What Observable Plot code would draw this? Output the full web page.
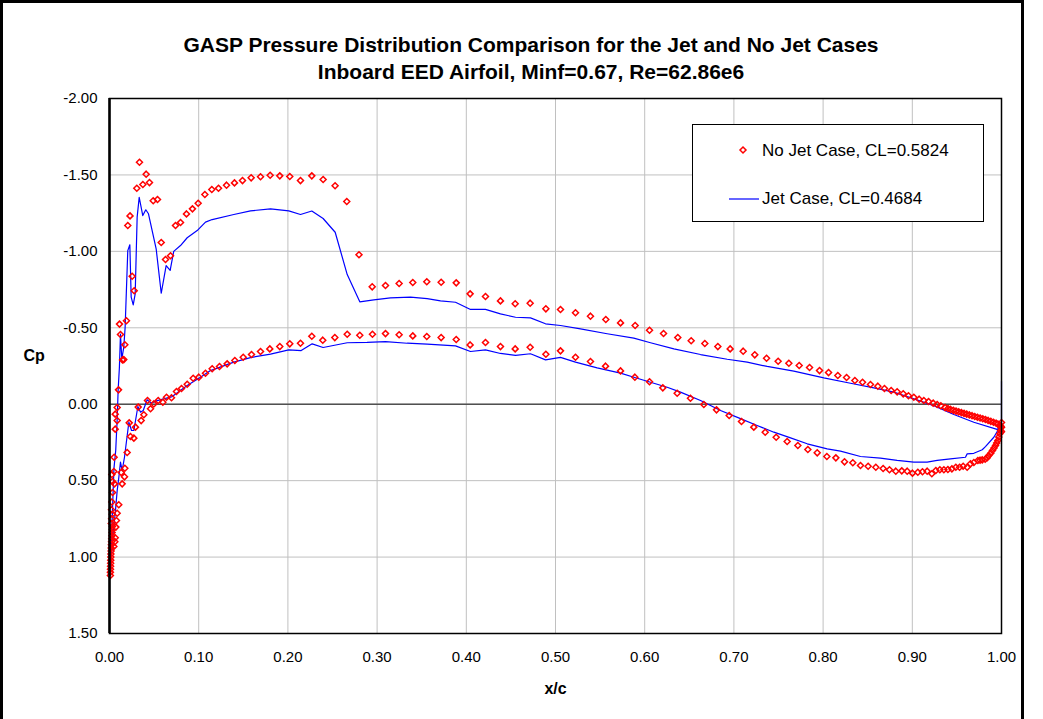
<!DOCTYPE html>
<html>
<head>
<meta charset="utf-8">
<script src="https://cdn.jsdelivr.net/npm/d3@7"></script>
<script src="https://cdn.jsdelivr.net/npm/@observablehq/plot@0.6"></script>
<style>
  body { margin: 0; background: #fff; font-family: "Liberation Sans", Arial, sans-serif; }
  #page { position: relative; width: 1043px; height: 719px; overflow: hidden; background: #fff; }
  #border { position: absolute; left: 0; top: 0; width: 1018px; height: 740px; border: 3px solid #000; box-sizing: content-box; }
  .title { position: absolute; left: 0; width: 1062px; text-align: center; font-weight: bold; font-size: 21px; line-height: 24px; color: #000; }
  #chart { position: absolute; left: 0; top: 88px; }
  #legend { position: absolute; left: 692px; top: 124px; width: 290px; height: 96px; border: 1px solid #000; background: #fff; font-size: 17px; color: #000; }
  #legend .row { position: absolute; left: 0; height: 24px; line-height: 24px; }
  #legend svg { position: absolute; }
</style>
</head>
<body>
<div id="page">
  <div id="border"></div>
  <div class="title" style="top:33px">GASP Pressure Distribution Comparison for the Jet and No Jet Cases</div>
  <div class="title" style="top:60px">Inboard EED Airfoil, Minf=0.67, Re=62.86e6</div>
  <div id="chart"></div>
  <div id="legend">
    <svg width="290" height="96" style="left:0;top:0">
      <path d="M50,22 L53,25 L50,28 L47,25 Z" fill="none" stroke="#ff0000" stroke-width="1.5"/>
      <line x1="36" x2="66" y1="74" y2="74" stroke="#0000ff" stroke-width="1.2"/>
    </svg>
    <div class="row" style="left:69px;top:14px">No Jet Case, CL=0.5824</div>
    <div class="row" style="left:69px;top:62px">Jet Case, CL=0.4684</div>
  </div>
</div>
<script>
// Tick positions
const xTicks = [0, 0.1, 0.2, 0.3, 0.4, 0.5, 0.6, 0.7, 0.8, 0.9, 1.0];
const yTicks = [-2, -1.5, -1, -0.5, 0, 0.5, 1, 1.5];

// No-jet case: surface pressure samples (x/c, Cp)
const noJetX = [
  0.0010, 0.0010, 0.0011, 0.0012, 0.0013, 0.0014, 0.0015, 0.0016, 0.0018, 0.0019,
  0.0021, 0.0023, 0.0025, 0.0027, 0.0029, 0.0031, 0.0033, 0.0020, 0.0024, 0.0030,
  0.0022, 0.0026, 0.0034, 0.0034, 0.0026, 0.0049, 0.0052, 0.0064, 0.0086, 0.0064,
  0.0086, 0.0101, 0.0146, 0.0160, 0.0172, 0.0123, 0.0112, 0.0190,
  0.0205, 0.0230, 0.0254, 0.0277, 0.0306, 0.0336, 0.0374, 0.0411, 0.0448, 0.0490,
  0.0538, 0.0580, 0.0628, 0.0684, 0.0740, 0.0796, 0.0863, 0.0930, 0.0994, 0.1069,
  0.1147, 0.1222, 0.1312, 0.1401, 0.1491, 0.1588, 0.1693, 0.1801, 0.1909, 0.2021,
  0.2141, 0.2268, 0.2395, 0.2529, 0.2660, 0.2797, 0.2945, 0.3094, 0.3247, 0.3400,
  0.3557, 0.3718, 0.3887, 0.4043, 0.4215, 0.4383, 0.4548, 0.4716, 0.4892, 0.5056,
  0.5224, 0.5392, 0.5564, 0.5729, 0.5893, 0.6054, 0.6211, 0.6371, 0.6521, 0.6674,
  0.6820, 0.6958, 0.7104, 0.7234, 0.7366, 0.7496, 0.7616, 0.7732, 0.7848, 0.7960,
  0.8061, 0.8165, 0.8263, 0.8356, 0.8442, 0.8531, 0.8614, 0.8688, 0.8763, 0.8830,
  0.8898, 0.8957, 0.9017, 0.9077, 0.9129, 0.9182, 0.9234, 0.9279, 0.9320, 0.9368,
  0.9400, 0.9430, 0.9460, 0.9490, 0.9520, 0.9550, 0.9580, 0.9610, 0.9640, 0.9670,
  0.9700, 0.9730, 0.9760, 0.9790, 0.9820, 0.9850, 0.9880, 0.9910, 0.9940, 0.9960,
  0.9980, 0.9990, 1.0000, 1.0000, 1.0000,
  0.0049, 0.0060, 0.0064, 0.0071, 0.0078, 0.0086, 0.0104, 0.0056, 0.0131, 0.0142,
  0.0168, 0.0172, 0.0198, 0.0235, 0.0273, 0.0221, 0.0291, 0.0322, 0.0355, 0.0385,
  0.0426, 0.0460, 0.0497, 0.0546, 0.0598, 0.0639, 0.0695, 0.0751, 0.0807, 0.0871,
  0.0938, 0.1001, 0.1076, 0.1151, 0.1233, 0.1319, 0.1405, 0.1499, 0.1592, 0.1693,
  0.1797, 0.1909, 0.2021, 0.2141, 0.2268, 0.2391, 0.2526, 0.2665, 0.2806, 0.2948,
  0.3094, 0.3247, 0.3400, 0.3557, 0.3718, 0.3887, 0.4043, 0.4215, 0.4383, 0.4548,
  0.4716, 0.4892, 0.5056, 0.5224, 0.5392, 0.5561, 0.5729, 0.5890, 0.6054, 0.6203,
  0.6364, 0.6513, 0.6663, 0.6805, 0.6947, 0.7085, 0.7223, 0.7351, 0.7474, 0.7597,
  0.7717, 0.7829, 0.7934, 0.8042, 0.8143, 0.8240, 0.8333, 0.8419, 0.8505, 0.8591,
  0.8673, 0.8744, 0.8815, 0.8882, 0.8943, 0.9002, 0.9062, 0.9114, 0.9167, 0.9219,
  0.9264, 0.9309, 0.9354, 0.9399, 0.9444, 0.9488, 0.9530, 0.9570, 0.9615, 0.9652,
  0.9690, 0.9735, 0.9760, 0.9784, 0.9817, 0.9840, 0.9857, 0.9880, 0.9899, 0.9916,
  0.9933, 0.9946, 0.9959, 0.9970, 0.9981, 0.9990, 0.9996
];
const noJetCp = [
  1.120, 1.100, 1.080, 1.060, 1.040, 1.020, 1.000, 0.980, 0.960, 0.940,
  0.920, 0.900, 0.880, 0.860, 0.840, 0.820, 0.800, 0.780, 0.750, 0.720,
  0.690, 0.640, 0.578, 0.506, 0.460, 0.440, 0.347, 0.163, 0.107, 0.065,
  0.022, -0.094, -0.290, -0.292, -0.389, -0.456, -0.524, -0.546,
  -1.169, -1.232, -0.837, -0.742, -1.413, -1.583, -1.437, -1.505, -1.450, -1.331,
  -1.339, -1.058, -0.947, -0.971, -1.169, -1.189, -1.245, -1.278, -1.315, -1.372,
  -1.405, -1.413, -1.433, -1.448, -1.463, -1.481, -1.488, -1.498, -1.494, -1.490,
  -1.463, -1.494, -1.470, -1.429, -1.326, -0.978, -0.768, -0.777, -0.790, -0.796,
  -0.801, -0.798, -0.794, -0.722, -0.705, -0.676, -0.657, -0.661, -0.624, -0.620,
  -0.598, -0.576, -0.554, -0.532, -0.515, -0.484, -0.463, -0.436, -0.415, -0.397,
  -0.377, -0.362, -0.347, -0.323, -0.301, -0.281, -0.268, -0.253, -0.240, -0.220,
  -0.207, -0.188, -0.175, -0.155, -0.144, -0.129, -0.118, -0.103, -0.090, -0.081,
  -0.068, -0.055, -0.046, -0.033, -0.024, -0.018, -0.007, 0.002, 0.010, 0.022,
  0.028, 0.034, 0.040, 0.045, 0.050, 0.055, 0.060, 0.065, 0.070, 0.075,
  0.080, 0.085, 0.090, 0.095, 0.100, 0.106, 0.112, 0.118, 0.124, 0.130,
  0.136, 0.142, 0.150, 0.120, 0.180,
  0.931, 0.900, 0.874, 0.804, 0.761, 0.713, 0.658, 0.521, 0.447, 0.521,
  0.475, 0.419, 0.316, 0.211, 0.222, 0.122, 0.150, 0.019, 0.107, 0.069,
  -0.024, 0.030, -0.002, -0.024, -0.013, -0.046, -0.042, -0.083, -0.103, -0.131,
  -0.170, -0.177, -0.203, -0.232, -0.247, -0.264, -0.286, -0.307, -0.325, -0.345,
  -0.362, -0.377, -0.395, -0.399, -0.445, -0.419, -0.436, -0.458, -0.451, -0.458,
  -0.462, -0.454, -0.447, -0.443, -0.436, -0.423, -0.388, -0.404, -0.377, -0.362,
  -0.373, -0.327, -0.349, -0.307, -0.279, -0.249, -0.218, -0.177, -0.147, -0.107,
  -0.072, -0.039, 0.002, 0.037, 0.074, 0.113, 0.150, 0.183, 0.216, 0.244,
  0.270, 0.296, 0.318, 0.342, 0.351, 0.377, 0.383, 0.401, 0.406, 0.412,
  0.421, 0.429, 0.438, 0.436, 0.438, 0.451, 0.445, 0.442, 0.438, 0.455,
  0.434, 0.429, 0.429, 0.427, 0.423, 0.412, 0.412, 0.406, 0.412, 0.390,
  0.381, 0.368, 0.366, 0.364, 0.360, 0.350, 0.336, 0.320, 0.303, 0.287,
  0.270, 0.254, 0.237, 0.215, 0.194, 0.172, 0.150
];

// Jet case: one continuous trace (jet exit, lower surface TE->LE, upper surface LE->TE)
const jetX = [
  1.0000, 1.0000, 0.9970, 0.9914, 0.9820, 0.9784, 0.9690, 0.9615, 0.9596, 0.9428,
  0.9279, 0.9166, 0.9017, 0.8830, 0.8643, 0.8419, 0.8195, 0.8046, 0.7822, 0.7635,
  0.7448, 0.7260, 0.7074, 0.6850, 0.6626, 0.6401, 0.6252, 0.6065, 0.5897, 0.5729,
  0.5467, 0.5224, 0.5056, 0.4888, 0.4720, 0.4552, 0.4383, 0.4215, 0.4047, 0.3879,
  0.3561, 0.3337, 0.3094, 0.2888, 0.2665, 0.2395, 0.2272, 0.2149, 0.2010, 0.1805,
  0.1581, 0.1394, 0.1132, 0.1020, 0.0871, 0.0703, 0.0609, 0.0516, 0.0467, 0.0422,
  0.0378, 0.0348, 0.0318, 0.0273, 0.0247, 0.0217, 0.0168, 0.0142, 0.0123, 0.0105,
  0.0086, 0.0067, 0.0040, 0.0020, 0.0010,
  0.0030, 0.0050, 0.0070, 0.0086, 0.0097, 0.0111, 0.0123, 0.0138, 0.0160, 0.0175,
  0.0205, 0.0228, 0.0243, 0.0266, 0.0288, 0.0310, 0.0333, 0.0373, 0.0407, 0.0437,
  0.0523, 0.0580, 0.0635, 0.0680, 0.0720, 0.0796, 0.0871, 0.0983, 0.1076, 0.1151,
  0.1394, 0.1581, 0.1805, 0.2010, 0.2141, 0.2268, 0.2395, 0.2530, 0.2665, 0.2806,
  0.2963, 0.3150, 0.3374, 0.3561, 0.3711, 0.3879, 0.4047, 0.4215, 0.4383, 0.4552,
  0.4720, 0.4888, 0.5056, 0.5280, 0.5579, 0.5878, 0.6065, 0.6327, 0.6626, 0.6925,
  0.7149, 0.7373, 0.7672, 0.8008, 0.8307, 0.8569, 0.8793, 0.9017, 0.9241, 0.9466,
  0.9690, 0.9950, 1.0000
];
const jetCp = [
  -0.150, 0.130, 0.161, 0.216, 0.277, 0.298, 0.321, 0.325, 0.347, 0.357,
  0.368, 0.379, 0.379, 0.368, 0.353, 0.342, 0.307, 0.292, 0.259, 0.220,
  0.183, 0.139, 0.094, 0.041, -0.024, -0.079, -0.111, -0.144, -0.173, -0.203,
  -0.238, -0.275, -0.306, -0.290, -0.330, -0.319, -0.332, -0.356, -0.345, -0.382,
  -0.393, -0.399, -0.410, -0.404, -0.402, -0.371, -0.395, -0.351, -0.356, -0.328,
  -0.305, -0.275, -0.220, -0.177, -0.122, -0.050, -0.035, -0.020, -0.007, -0.029,
  0.041, 0.052, 0.015, 0.172, 0.172, 0.118, 0.347, 0.434, 0.379, 0.477,
  0.565, 0.695, 0.850, 1.000, 1.100,
  0.750, 0.420, 0.300, 0.100, -0.094, -0.242, -0.458, -0.294, -0.373, -0.500,
  -1.005, -1.043, -0.700, -0.650, -0.722, -1.224, -1.354, -1.234, -1.272, -1.246,
  -1.017, -0.726, -0.907, -0.875, -1.000, -1.038, -1.089, -1.136, -1.191, -1.208,
  -1.241, -1.265, -1.278, -1.265, -1.241, -1.264, -1.215, -1.125, -0.848, -0.670,
  -0.683, -0.696, -0.700, -0.691, -0.676, -0.667, -0.620, -0.620, -0.591, -0.569,
  -0.565, -0.526, -0.515, -0.493, -0.461, -0.432, -0.402, -0.362, -0.325, -0.294,
  -0.275, -0.247, -0.216, -0.172, -0.137, -0.107, -0.079, -0.035, 0.009, 0.067,
  0.118, 0.165, 0.140
];

const noJet = noJetX.map((x, i) => ({x, cp: noJetCp[i]}));
const jet = jetX.map((x, i) => ({x, cp: jetCp[i]}));

const fmt = d => d.toFixed(2);

const chart = Plot.plot({
  width: 1043,
  height: 631,
  marginLeft: 109,
  marginRight: 42,
  marginTop: 10,
  marginBottom: 86,
  style: {fontFamily: "'Liberation Sans', Arial, sans-serif", fontSize: "15px", color: "#000", background: "transparent", overflow: "visible"},
  x: {domain: [0, 1], label: null},
  y: {domain: [-2, 1.5], reverse: true, label: null},
  marks: [
    Plot.gridX(xTicks, {stroke: "#c0c0c0", strokeOpacity: 1, strokeWidth: 1}),
    Plot.gridY(yTicks, {stroke: "#c0c0c0", strokeOpacity: 1, strokeWidth: 1}),
    Plot.ruleY([0], {stroke: "#505050", strokeWidth: 1.5}),
    Plot.line(jet, {x: "x", y: "cp", stroke: "#0000ff", strokeWidth: 1.2, curve: "linear"}),
    Plot.dot(noJet, {x: "x", y: "cp", symbol: "diamond2", r: 2.7, stroke: "#ff0000", strokeWidth: 1.5, fill: "none"}),
    Plot.frame({stroke: "#000", strokeWidth: 1.5}),
    Plot.ruleX([0], {stroke: "#000", strokeWidth: 2.5}),
    Plot.axisX(xTicks, {tickSize: 0, tickPadding: 18, tickFormat: fmt, fontSize: 15, label: null}),
    Plot.axisY(yTicks, {tickSize: 0, tickPadding: 12, tickFormat: fmt, fontSize: 15, label: null}),
    Plot.text(["Cp"], {text: d => d, frameAnchor: "left", textAnchor: "start", dx: -86, dy: -10, fontWeight: "bold", fontSize: 16}),
    Plot.text(["x/c"], {text: d => d, frameAnchor: "bottom", dy: 60, fontWeight: "bold", fontSize: 16})
  ]
});
document.getElementById("chart").appendChild(chart);
</script>
</body>
</html>
